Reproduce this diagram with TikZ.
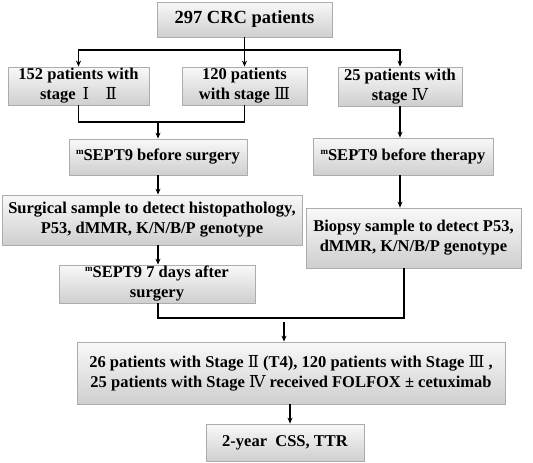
\documentclass[tikz,border=0pt]{standalone}
\usepackage{fontspec}
\setmainfont{Liberation Serif}
\newfontfamily\rnfont{DejaVu Serif}
\newcommand{\rn}[1]{{\rnfont\mdseries #1}}
\newcommand{\msup}{\raisebox{0.38em}{\fontsize{9}{9}\selectfont m}}
\usetikzlibrary{arrows.meta}
\begin{document}
\begin{tikzpicture}[x=1pt,y=1pt,
  box/.style={draw=gray!65, line width=0.8pt, top color=gray!5, bottom color=gray!38,
    align=center, inner sep=1pt, font=\fontsize{16.5}{20}\selectfont\bfseries},
  ln/.style={line width=1.2pt, black},
  arr/.style={ln, -{Stealth[length=6pt,width=5pt]}}]
\useasboundingbox (0,0) rectangle (533,-463);
\node[box, minimum width=175, minimum height=35, font=\fontsize{18.5}{20}\selectfont\bfseries] (top) at (244.5,-19.5) {297 CRC patients};
\node[box, minimum width=141, minimum height=38] (s12) at (78.5,-86) {152 patients with\\stage \,\rn{Ⅰ}\quad \rn{Ⅱ}};
\node[box, minimum width=125, minimum height=38] (s3) at (244.5,-86) {120 patients\\with stage \rn{Ⅲ}};
\node[box, minimum width=124, minimum height=39] (s4) at (400,-86.5) {25 patients with\\stage \rn{Ⅳ}};
\node[box, minimum width=178, minimum height=36] (bs) at (158,-157) {\msup SEPT9 before surgery};
\node[box, minimum width=180, minimum height=37] (bt) at (403,-156.5) {\msup SEPT9 before therapy};
\node[box, minimum width=300, minimum height=50] (surg) at (152,-220) {Surgical sample to detect histopathology,\\P53, dMMR, K/N/B/P genotype};
\node[box, minimum width=215, minimum height=60] (bio) at (413.5,-238) {Biopsy sample to detect P53,\\dMMR, K/N/B/P genotype};
\node[box, minimum width=196, minimum height=38] (d7) at (157,-284) {\msup SEPT9 7 days after\\surgery};
\node[box, minimum width=428, minimum height=62] (t26) at (291,-373) {26 patients with Stage \rn{Ⅱ} (T4), 120 patients with Stage \rn{Ⅲ} ,\\25 patients with Stage \rn{Ⅳ} received FOLFOX ± cetuximab};
\node[box, minimum width=158, minimum height=37] (css) at (285,-442.5) {2-year \ CSS, TTR};
% connectors
\coordinate (j1) at (244.5,-50);
\draw[ln] (top.south) -- (j1);
\draw[arr] (j1) -| (s12.north);
\draw[arr] (j1) -| (s4.north);
\draw[arr] (j1) -- (s3.north);
\coordinate (j2) at (158,-122);
\draw[ln] (s12.south) |- (j2) -| (s3.south);
\draw[arr] (j2) -- (bs.north);
\draw[arr] (bs.south) -- (bs.south |- surg.north);
\draw[arr] (s4.south) -- (s4.south |- bt.north);
\draw[arr] (bt.south -| s4.south) -- (s4.south |- bio.north);
\draw[arr] (bs.south |- surg.south) -- (bs.south |- d7.north);
\coordinate (j3) at (158,-318);
\coordinate (b1) at (404,-268);
\draw[ln] (bs.south |- d7.south) -- (j3) -| (b1);
\coordinate (a1) at (284,-322);
\draw[arr] (a1) -- (a1 |- t26.north);
\coordinate (a2) at (290,-404);
\draw[arr] (a2) -- (a2 |- css.north);
\end{tikzpicture}
\end{document}
